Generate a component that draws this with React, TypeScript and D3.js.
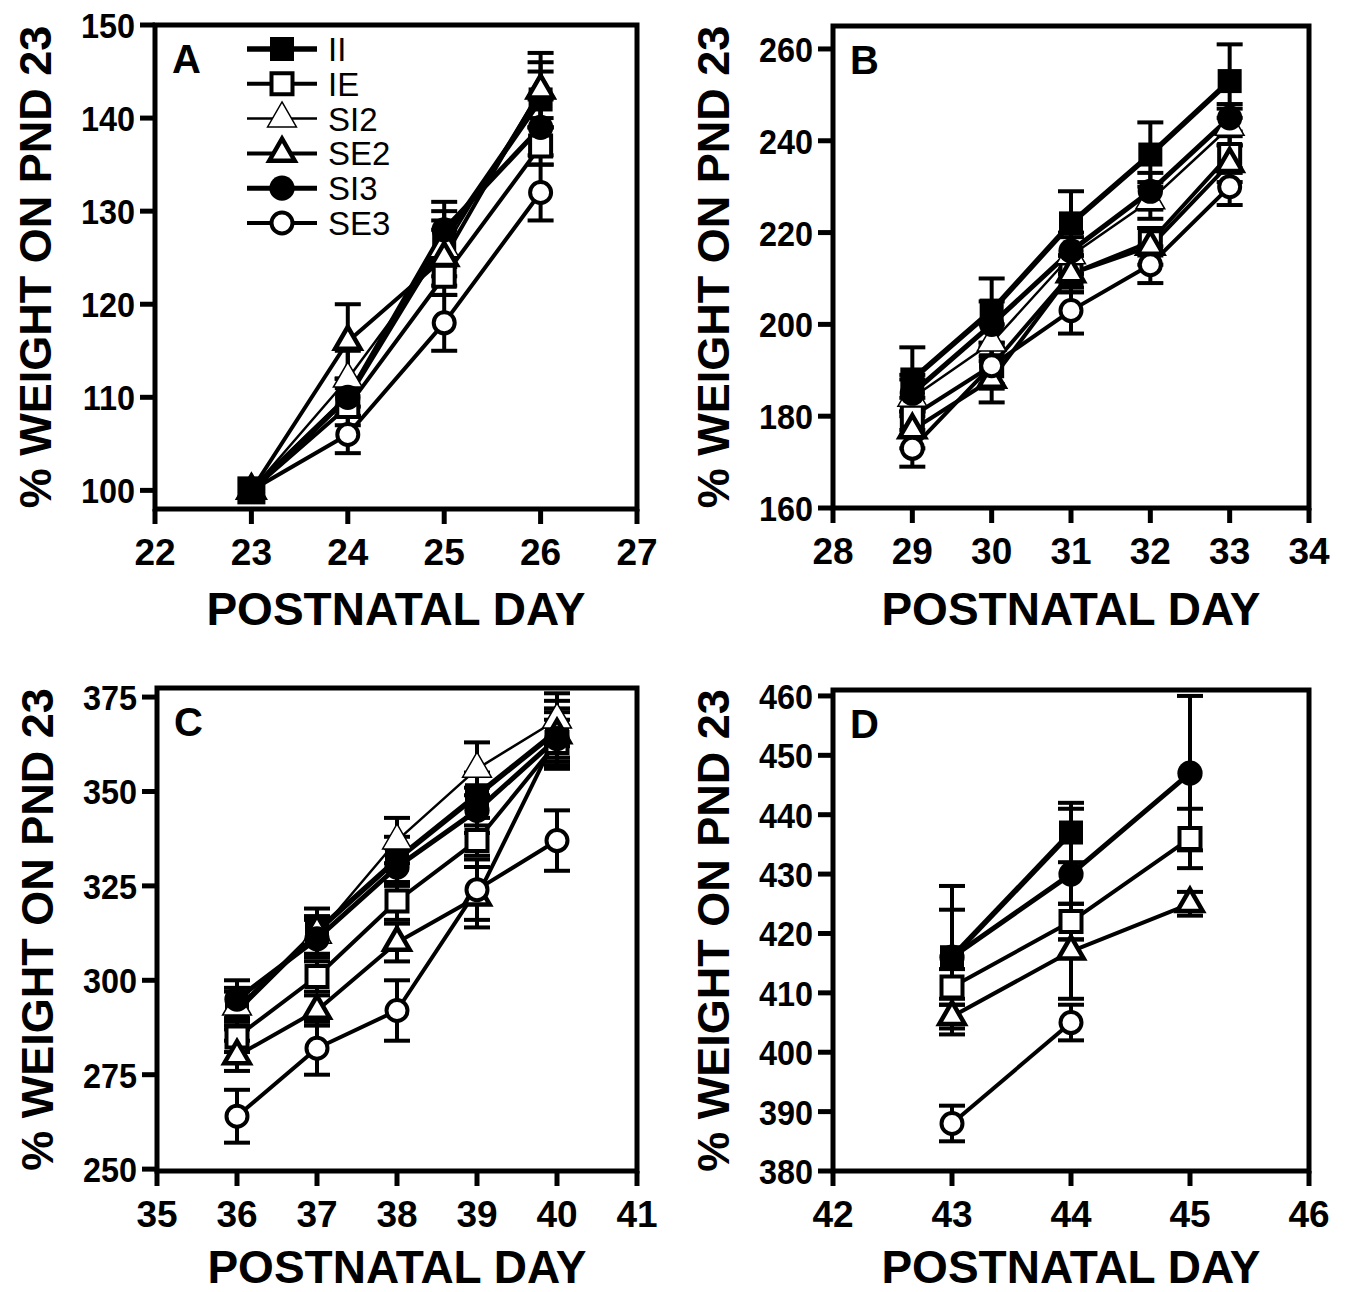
import * as d3 from 'd3';

const groupNames = ['II', 'IE', 'SI2', 'SE2', 'SI3', 'SE3'];

// Panel A: PND 23-26 (all groups normalised to 100 on PND 23)
const daysA = [23, 24, 25, 26];
const aII = [100, 110, 127, 142];
const aIE = [100, 109, 123, 137];
const aSI2 = [100, 112, 126, 143];
const aSE2 = [100, 116, 125, 143];
const aSI3 = [100, 110, 128, 139];
const aSE3 = [100, 106, 118, 132];
const aIIErr = [0, 2, 3, 3];
const aIEErr = [0, 2, 2, 2];
const aSI2Err = [0, 3, 3, 3];
const aSE2Err = [0, 4, 3, 4];
const aSI3Err = [0, 2, 3, 3];
const aSE3Err = [0, 2, 3, 3];
const ticksXA = [22, 23, 24, 25, 26, 27];
const ticksYA = [100, 110, 120, 130, 140, 150];

// Panel B: PND 29-33
const daysB = [29, 30, 31, 32, 33];
const bII = [188, 203, 222, 237, 253];
const bIE = [180, 191, 211, 218, 237];
const bSI2 = [184, 196, 215, 227, 243];
const bSE2 = [177, 188, 211, 217, 235];
const bSI3 = [185, 200, 216, 229, 245];
const bSE3 = [173, 191, 203, 213, 230];
const bIIErr = [7, 7, 7, 7, 8];
const bIEErr = [4, 4, 4, 3, 4];
const bSI2Err = [4, 4, 4, 4, 4];
const bSE2Err = [4, 5, 4, 4, 4];
const bSI3Err = [4, 5, 4, 4, 3];
const bSE3Err = [4, 5, 5, 4, 4];
const ticksXB = [28, 29, 30, 31, 32, 33, 34];
const ticksYB = [160, 180, 200, 220, 240, 260];

// Panel C: PND 36-40
const daysC = [36, 37, 38, 39, 40];
const cII = [292, 313, 332, 349, 366];
const cIE = [285, 301, 321, 337, 363];
const cSI2 = [293, 312, 337, 356, 369];
const cSE2 = [280, 292, 310, 322, 365];
const cSI3 = [295, 311, 330, 345, 364];
const cSE3 = [264, 282, 292, 324, 337];
const cIIErr = [5, 6, 6, 6, 8];
const cIEErr = [4, 4, 5, 4, 6];
const cSI2Err = [5, 5, 6, 7, 7];
const cSE2Err = [4, 4, 5, 8, 6];
const cSI3Err = [5, 5, 5, 6, 8];
const cSE3Err = [7, 7, 8, 8, 8];
const ticksXC = [35, 36, 37, 38, 39, 40, 41];
const ticksYC = [250, 275, 300, 325, 350, 375];

// Panel D: PND 43-45 (SI2 not shown)
const daysD = [43, 44, 45];
const dII = [416, 437, null];
const dIE = [411, 422, 436];
const dSE2 = [406, 417, 425];
const dSI3 = [416, 430, 447];
const dSE3 = [388, 405, null];
const dIIErr = [12, 5, null];
const dIEErr = [3, 3, 5];
const dSE2Err = [3, 8, 2];
const dSI3Err = [8, 11, 13];
const dSE3Err = [3, 3, null];
const ticksXD = [42, 43, 44, 45, 46];
const ticksYD = [380, 390, 400, 410, 420, 430, 440, 450, 460];

const yTitle = '% WEIGHT ON PND 23';
const xTitle = 'POSTNATAL DAY';
const FONT = '"Liberation Sans", Arial, sans-serif';

type Series = { name: string; values: (number | null)[]; errors: (number | null)[] };

const symbolOf: Record<string, d3.SymbolType> = {
  II: d3.symbolSquare,
  IE: d3.symbolSquare,
  SI2: d3.symbolTriangle,
  SE2: d3.symbolTriangle,
  SI3: d3.symbolCircle,
  SE3: d3.symbolCircle,
};
const symbolSize: Record<string, number> = { II: 576, IE: 441, SI2: 360, SE2: 280, SI3: 500, SE3: 346 };
const filled: Record<string, boolean> = { II: true, IE: false, SI2: false, SE2: false, SI3: true, SE3: false };
const lineWidth: Record<string, number> = { II: 5.5, IE: 4, SI2: 2.5, SE2: 4, SI3: 5, SE3: 4 };
const outlineWidth: Record<string, number> = { II: 0, IE: 4, SI2: 1.5, SE2: 4.5, SI3: 0, SE3: 4 };

function Marker({ name, cx, cy }: { name: string; cx: number; cy: number }) {
  const path = d3.symbol().type(symbolOf[name]).size(symbolSize[name])() as string;
  return (
    <path
      d={path}
      transform={`translate(${cx},${cy})`}
      fill={filled[name] ? '#000' : '#fff'}
      stroke="#000"
      strokeWidth={outlineWidth[name]}
      strokeLinejoin="miter"
    />
  );
}

function Panel({ cfg }: { cfg: any }) {
  const x = d3.scaleLinear().domain(cfg.xDomain).range([cfg.left, cfg.right]);
  const y = d3.scaleLinear().domain(cfg.yDomain).range([cfg.bottom, cfg.top]);
  const series: Series[] = cfg.series;

  const line = d3
    .line<{ d: number; v: number | null }>()
    .defined(p => p.v != null)
    .x(p => x(p.d))
    .y(p => y(p.v as number));

  const tickLen = 15;
  const midY = (cfg.top + cfg.bottom) / 2;
  const midX = (cfg.left + cfg.right) / 2;

  return (
    <g>
      {/* lines */}
      {series.map(s => (
        <path
          key={'l' + s.name}
          d={line(cfg.days.map((d: number, i: number) => ({ d, v: s.values[i] }))) || ''}
          fill="none"
          stroke="#000"
          strokeWidth={lineWidth[s.name]}
          strokeLinejoin="round"
        />
      ))}

      {/* error bars */}
      {series.map(s =>
        cfg.days.map((d: number, i: number) => {
          const v = s.values[i];
          const e = s.errors[i];
          if (v == null || !e) return null;
          const px = x(d);
          return (
            <g key={'e' + s.name + i} stroke="#000" strokeWidth={4}>
              <line x1={px} x2={px} y1={y(v - e)} y2={y(v + e)} />
              <line x1={px - 13} x2={px + 13} y1={y(v + e)} y2={y(v + e)} />
              <line x1={px - 13} x2={px + 13} y1={y(v - e)} y2={y(v - e)} />
            </g>
          );
        })
      )}

      {/* symbols */}
      {series.map(s =>
        cfg.days.map((d: number, i: number) =>
          s.values[i] == null ? null : (
            <Marker key={'m' + s.name + i} name={s.name} cx={x(d)} cy={y(s.values[i] as number)} />
          )
        )
      )}

      {/* common reference point */}
      {cfg.baseline && (
        <rect
          x={x(cfg.baseline.day) - 14}
          y={y(cfg.baseline.value) - 14}
          width={28}
          height={28}
          fill="#000"
        />
      )}

      {/* frame */}
      <rect
        x={cfg.left}
        y={cfg.top}
        width={cfg.right - cfg.left}
        height={cfg.bottom - cfg.top}
        fill="none"
        stroke="#000"
        strokeWidth={5}
      />

      {/* x axis */}
      {cfg.xTicks.map((t: number) => (
        <g key={'xt' + t}>
          <line x1={x(t)} x2={x(t)} y1={cfg.bottom} y2={cfg.bottom + tickLen} stroke="#000" strokeWidth={5} />
          <text
            x={x(t)}
            y={cfg.bottom + 56}
            textAnchor="middle"
            fontFamily={FONT}
            fontWeight="bold"
            fontSize={37}
          >
            {t}
          </text>
        </g>
      ))}
      <text
        x={midX}
        y={cfg.bottom + cfg.titleGap}
        textAnchor="middle"
        fontFamily={FONT}
        fontWeight="bold"
        fontSize={46}
      >
        {xTitle}
      </text>

      {/* y axis */}
      {cfg.yTicks.map((t: number) => (
        <g key={'yt' + t}>
          <line x1={cfg.left - tickLen} x2={cfg.left} y1={y(t)} y2={y(t)} stroke="#000" strokeWidth={5} />
          <text
            transform={`translate(${cfg.left - 20},${y(t) + 13}) scale(0.9,1)`}
            textAnchor="end"
            fontFamily={FONT}
            fontWeight="bold"
            fontSize={36}
          >
            {t}
          </text>
        </g>
      ))}
      <text
        transform={`translate(${cfg.left - 104},${midY}) rotate(-90)`}
        textAnchor="middle"
        fontFamily={FONT}
        fontWeight="bold"
        fontSize={45}
      >
        {yTitle}
      </text>

      {/* panel letter */}
      <text x={cfg.left + 17} y={cfg.top + 48} fontFamily={FONT} fontWeight="bold" fontSize={40}>
        {cfg.letter}
      </text>
    </g>
  );
}

function Legend({ x0, y0 }: { x0: number; y0: number }) {
  const rowH = 34.8;
  return (
    <g>
      {groupNames.map((name, i) => {
        const cy = y0 + i * rowH;
        return (
          <g key={'lg' + name}>
            <line x1={x0} x2={x0 + 70} y1={cy} y2={cy} stroke="#000" strokeWidth={lineWidth[name]} />
            <Marker name={name} cx={x0 + 35} cy={cy} />
            <text x={x0 + 81} y={cy + 12} fontFamily={FONT} fontSize={33}>
              {name}
            </text>
          </g>
        );
      })}
    </g>
  );
}

const mk = (names: string[], vals: (number | null)[][], errs: (number | null)[][]): Series[] =>
  names.map((name, i) => ({ name, values: vals[i], errors: errs[i] }));

const panels = [
  {
    letter: 'A',
    days: daysA,
    series: mk(groupNames, [aII, aIE, aSI2, aSE2, aSI3, aSE3], [aIIErr, aIEErr, aSI2Err, aSE2Err, aSI3Err, aSE3Err]),
    xTicks: ticksXA,
    yTicks: ticksYA,
    xDomain: [22, 27],
    yDomain: [98, 150],
    left: 155,
    right: 637,
    top: 25,
    bottom: 509,
    titleGap: 116,
    baseline: { day: 23, value: 100 },
  },
  {
    letter: 'B',
    days: daysB,
    series: mk(groupNames, [bII, bIE, bSI2, bSE2, bSI3, bSE3], [bIIErr, bIEErr, bSI2Err, bSE2Err, bSI3Err, bSE3Err]),
    xTicks: ticksXB,
    yTicks: ticksYB,
    xDomain: [28, 34],
    yDomain: [160, 265],
    left: 833,
    right: 1309,
    top: 26,
    bottom: 508,
    titleGap: 117,
  },
  {
    letter: 'C',
    days: daysC,
    series: mk(groupNames, [cII, cIE, cSI2, cSE2, cSI3, cSE3], [cIIErr, cIEErr, cSI2Err, cSE2Err, cSI3Err, cSE3Err]),
    xTicks: ticksXC,
    yTicks: ticksYC,
    xDomain: [35, 41],
    yDomain: [249.5, 377.4],
    left: 157,
    right: 637,
    top: 688,
    bottom: 1171,
    titleGap: 112,
  },
  {
    letter: 'D',
    days: daysD,
    series: mk(['II', 'IE', 'SE2', 'SI3', 'SE3'], [dII, dIE, dSE2, dSI3, dSE3], [dIIErr, dIEErr, dSE2Err, dSI3Err, dSE3Err]),
    xTicks: ticksXD,
    yTicks: ticksYD,
    xDomain: [42, 46],
    yDomain: [380, 461],
    left: 833,
    right: 1309,
    top: 690,
    bottom: 1171,
    titleGap: 112,
  },
];

export default function App() {
  return (
    <svg
      width={1348}
      height={1292}
      style={{ position: 'absolute', left: 0, top: 0, background: '#fff' }}
    >
      <rect width={1348} height={1292} fill="#fff" />
      {panels.map(p => (
        <Panel key={p.letter} cfg={p} />
      ))}
      <Legend x0={247} y0={49} />
    </svg>
  );
}
